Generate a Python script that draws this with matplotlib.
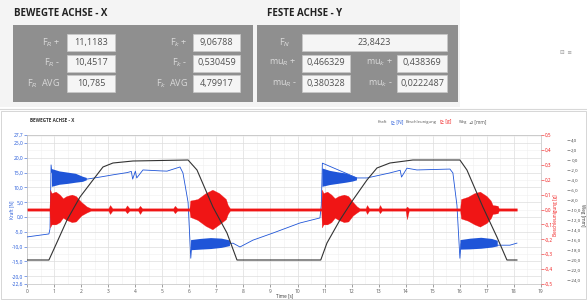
import numpy as np
import matplotlib
matplotlib.use("Agg")
import matplotlib.pyplot as plt
from matplotlib.patches import Rectangle
from matplotlib.ticker import FuncFormatter, MultipleLocator

plt.rcParams['font.family'] = ['Open Sans', 'DejaVu Sans']

# header panels
x_labels_left = [r"F$_R$ +", r"F$_R$ -", r"F$_R$  AVG"]
x_values_left = ["11,1183", "10,4517", "10,785"]
x_labels_right = [r"F$_k$ +", r"F$_k$ -", r"F$_k$  AVG"]
x_values_right = ["9,06788", "0,530459", "4,79917"]
fn_label = r"F$_N$"
fn_value = "23,8423"
y_labels_left = [r"mu$_R$ +", r"mu$_R$ -"]
y_values_left = ["0,466329", "0,380328"]
y_labels_right = [r"mu$_k$ +", r"mu$_k$ -"]
y_values_right = ["0,438369", "0,0222487"]

# time axis [s]
x_ticks = list(range(0, 20))

# Weg [mm] (black)
t_weg = [0.0, 0.80, 1.02, 1.47, 1.95, 2.43, 2.80, 3.17, 3.91, 5.95, 6.28, 6.87, 7.39, 7.76,
         10.86, 11.09, 11.57, 12.05, 12.57, 12.94, 13.42, 14.27, 16.01, 16.27, 16.86, 17.38, 17.75, 18.12]
weg = [-20, -20, -17.4, -12, -7.4, -4, -1.4, -0.6, -0.2, 0, -2, -9.4, -14.6, -20,
       -20, -16.6, -12, -8, -4, -1.6, -0.6, 0, 0, -2, -9.4, -15.4, -20, -20]

# Kraft [N] (blue, thin trace)
t_kraft = [0.00, 0.80, 0.84, 0.88, 0.91, 2.20, 2.69, 3.20, 3.69, 3.85, 3.90, 4.00, 4.05, 4.28,
           4.90, 5.17, 5.65, 5.76, 5.95, 6.05, 6.09, 7.50, 7.61, 7.87, 8.35, 9.09, 10.09, 10.83,
           10.88, 10.92, 12.20, 12.57, 13.42, 13.80, 13.85, 14.05, 14.42, 15.64, 15.75, 15.90,
           16.01, 16.05, 17.41, 17.60, 17.86, 18.12]
kraft = [-6.7, -5.7, -4.0, 17.6, 15.0, 12.8, 13.5, 14.3, 15.0, 15.4, 12.8, 15.5, 13.2, 15.9,
         15.6, 15.5, 16.9, 14.9, 5.0, -13.9, -9.0, -9.0, -8.8, -10.1, -7.8, -5.4, -2.0, -0.3,
         4.0, 18.2, 13.2, 13.2, 14.9, 15.8, 13.5, 16.5, 15.9, 16.2, 14.9, 4.0,
         -13.9, -9.0, -9.5, -9.5, -9.5, -8.8]

# Kraft noise bands (upper / lower envelope)
t_kband = [0.91, 1.20, 1.50, 1.80, 2.06, 2.20, np.nan,
           6.06, 6.40, 6.80, 7.20, 7.50, np.nan,
           10.92, 11.20, 11.50, 11.80, 12.05, 12.20, np.nan,
           16.03, 16.40, 16.80, 17.20, 17.41]
kband_hi = [16.2, 15.4, 15.0, 14.6, 13.6, 13.2, np.nan,
            -7.8, -7.4, -7.1, -7.3, -7.9, np.nan,
            16.4, 15.6, 15.1, 14.7, 13.8, 13.3, np.nan,
            -7.8, -7.3, -7.0, -7.4, -8.0]
kband_lo = [10.2, 10.9, 11.2, 11.6, 11.9, 12.4, np.nan,
            -11.2, -11.0, -10.8, -10.4, -9.8, np.nan,
            10.2, 10.8, 11.2, 11.6, 12.0, 12.4, np.nan,
            -11.0, -10.9, -10.7, -10.3, -9.9]

# Beschleunigung [g] (red, envelope)
t_acc = [0.00, 0.82, 0.84, 0.90, 1.05, 1.20, 1.32, 1.45, 1.65, 1.80, 2.00, 2.20, 2.35,
         3.00, 3.06, 3.15, 3.62, 3.69, 3.78, 4.10, 4.17, 4.25, 5.40, 5.46, 5.55,
         6.00, 6.03, 6.30, 6.60, 6.85, 7.10, 7.35, 7.42, 7.50,
         10.88, 10.90, 10.96, 11.10, 11.25, 11.38, 11.52, 11.72, 11.88, 12.05, 12.20, 12.30,
         12.52, 12.57, 12.65, 13.00, 13.05, 13.12, 14.00, 14.05, 14.12,
         16.02, 16.05, 16.30, 16.55, 16.75, 17.00, 17.15, 17.22, 17.41, 17.45, 18.12]
acc_hi = [0.008, 0.008, 0.133, 0.11, 0.12, 0.10, 0.075, 0.09, 0.10, 0.09, 0.05, 0.02, 0.008,
          0.008, 0.03, 0.008, 0.008, 0.028, 0.008, 0.008, 0.025, 0.008, 0.008, 0.025, 0.008,
          0.008, 0.06, 0.07, 0.11, 0.133, 0.11, 0.07, 0.03, 0.008,
          0.008, 0.133, 0.11, 0.12, 0.10, 0.075, 0.09, 0.10, 0.09, 0.05, 0.02, 0.008,
          0.008, 0.03, 0.008, 0.008, 0.03, 0.008, 0.008, 0.02, 0.008,
          0.008, 0.07, 0.085, 0.11, 0.12, 0.09, 0.06, 0.03, 0.025, 0.008, 0.008]
acc_lo = [-0.008, -0.008, -0.12, -0.10, -0.10, -0.085, -0.055, -0.07, -0.085, -0.08, -0.04, -0.02, -0.008,
          -0.008, -0.03, -0.008, -0.008, -0.025, -0.008, -0.008, -0.03, -0.008, -0.008, -0.025, -0.008,
          -0.008, -0.05, -0.07, -0.11, -0.133, -0.10, -0.065, -0.03, -0.008,
          -0.008, -0.12, -0.10, -0.10, -0.085, -0.055, -0.07, -0.085, -0.08, -0.04, -0.02, -0.008,
          -0.008, -0.03, -0.008, -0.008, -0.025, -0.008, -0.008, -0.065, -0.008,
          -0.008, -0.06, -0.075, -0.10, -0.115, -0.09, -0.06, -0.03, -0.025, -0.008, -0.008]

kraft_ticks = [-22.6, -20, -15, -10, -5, 0, 5, 10, 15, 20, 25, 27.7]
acc_ticks = [-0.5, -0.4, -0.3, -0.2, -0.1, 0.0, 0.1, 0.2, 0.3, 0.4, 0.5]
weg_ticks = [-24, -22, -20, -18, -16, -14, -12, -10, -8, -6, -4, -2, 0, 2, 4]

BLUE = '#1f55d8'
RED = '#f01515'
DARK = '#8f8f8f'

W, H = 587, 300
fig = plt.figure(figsize=(W / 100, H / 100), dpi=100)
fig.patch.set_facecolor('white')

# overlay in pixel coordinates
ov = fig.add_axes([0, 0, 1, 1])
ov.set_xlim(0, W)
ov.set_ylim(H, 0)
ov.axis('off')

ov.add_patch(Rectangle((0, 0), 460, 107, fc='#f4f4f4', ec='none'))
ov.add_patch(Rectangle((1, 111), 585, 188, fc='white', ec='#d0d0d0', lw=0.6))
ov.plot([0, W], [108.5, 108.5], color='#d8d8d8', lw=0.8)

ov.text(14, 13, "BEWEGTE ACHSE - X", fontsize=7, fontweight='bold', color='#222222', va='center')
ov.text(267, 13, "FESTE ACHSE - Y", fontsize=7, fontweight='bold', color='#222222', va='center')

ov.add_patch(Rectangle((13, 25), 240, 77, fc=DARK, ec='none'))
ov.add_patch(Rectangle((257, 25), 201, 77, fc=DARK, ec='none'))

rows = [42.5, 63, 83.5]
LBL = '#dadada'
VAL = '#505050'
for i in range(3):
    ov.add_patch(Rectangle((67, rows[i] - 8.5), 48, 17, fc='#f5f5f5', ec='#c8c8c8', lw=0.5))
    ov.text(91, rows[i], x_values_left[i], fontsize=6.5, color=VAL, ha='center', va='center')
    ov.text(60, rows[i], x_labels_left[i], fontsize=6.5, color=LBL, ha='right', va='center')
    ov.add_patch(Rectangle((193, rows[i] - 8.5), 47, 17, fc='#f5f5f5', ec='#c8c8c8', lw=0.5))
    ov.text(216.5, rows[i], x_values_right[i], fontsize=6.5, color=VAL, ha='center', va='center')
    ov.text(188, rows[i], x_labels_right[i], fontsize=6.5, color=LBL, ha='right', va='center')

ov.add_patch(Rectangle((302, rows[0] - 8.5), 145, 17, fc='#f5f5f5', ec='#c8c8c8', lw=0.5))
ov.text(374.5, rows[0], fn_value, fontsize=6.5, color=VAL, ha='center', va='center')
ov.text(285, rows[0], fn_label, fontsize=6.5, color=LBL, ha='center', va='center')
for i in range(2):
    r = rows[i + 1]
    ov.add_patch(Rectangle((302, r - 8.5), 48, 17, fc='#f5f5f5', ec='#c8c8c8', lw=0.5))
    ov.text(326, r, y_values_left[i], fontsize=6.5, color=VAL, ha='center', va='center')
    ov.text(297, r, y_labels_left[i], fontsize=6.5, color=LBL, ha='right', va='center')
    ov.add_patch(Rectangle((397, r - 8.5), 50, 17, fc='#f5f5f5', ec='#c8c8c8', lw=0.5))
    ov.text(422, r, y_values_right[i], fontsize=6.5, color=VAL, ha='center', va='center')
    ov.text(393, r, y_labels_right[i], fontsize=6.5, color=LBL, ha='right', va='center')

ov.text(566, 52, "\u229f  \u2261", fontsize=4, color='#999999', ha='center', va='center')

# chart title and legend
ov.text(30, 120, "BEWEGTE ACHSE - X", fontsize=3.3, fontweight='bold', color='#333333', va='center')
ov.text(378, 122, "Kraft", fontsize=3, color='#555555', va='center')
ov.text(391, 122, "\u22b5 [N]", fontsize=3.5, color=BLUE, va='center')
ov.text(406, 122, "Beschleunigung", fontsize=3, color='#555555', va='center')
ov.text(440, 122, "\u22b5 [g]", fontsize=3.5, color=RED, va='center')
ov.text(459, 122, "Weg", fontsize=3, color='#555555', va='center')
ov.text(469, 122, "\u22bf [mm]", fontsize=3.5, color='#555555', va='center')

# axis titles
ov.text(12, 210, "Kraft [N]", fontsize=3.3, color=BLUE, rotation=90, ha='center', va='center')
ov.text(556, 215, "Beschleunigung [g]", fontsize=3.3, color=RED, rotation=90, ha='center', va='center')
ov.text(583, 215, "Weg [mm]", fontsize=3.3, color='#333333', rotation=270, ha='center', va='center')
ov.text(285, 296, "Time [s]", fontsize=3.3, color='#333333', ha='center', va='center')

# main chart
left, right, top, bottom = 27.3, 540.7, 135, 284
ax = fig.add_axes([left / W, 1 - bottom / H, (right - left) / W, (bottom - top) / H])
ax.set_facecolor('white')

comma = lambda fmt: FuncFormatter(lambda v, p: format(v, fmt).replace('.', ','))

ax.fill_between(t_kband, kband_hi, kband_lo, color=BLUE, lw=0, zorder=3)
ax.plot(t_kraft, kraft, color=BLUE, lw=0.6, zorder=3)
ax.set_xlim(0, 19)
ax.set_ylim(kraft_ticks[0], kraft_ticks[-1])
ax.set_xticks(x_ticks)
ax.set_yticks(kraft_ticks)
ax.yaxis.set_minor_locator(MultipleLocator(2.5))
ax.xaxis.set_minor_locator(MultipleLocator(0.5))
ax.yaxis.set_major_formatter(comma('.1f'))
ax.grid(True, which='major', color='#dddddd', lw=0.5)
ax.grid(True, which='minor', color='#efefef', lw=0.4)
ax.tick_params(axis='x', labelsize=3.5, colors='#555555', length=2, width=0.4, pad=1.5)
ax.tick_params(axis='y', labelsize=3.5, colors=BLUE, length=2, width=0.4, pad=1)
ax.tick_params(which='minor', length=0)
for s in ax.spines.values():
    s.set_color('#c0c0c0')
    s.set_linewidth(0.5)

ax_r = ax.twinx()
ax_r.fill_between(t_acc, acc_hi, acc_lo, color=RED, lw=0.2, edgecolor=RED)
ax_r.set_ylim(acc_ticks[0], acc_ticks[-1])
ax_r.set_yticks(acc_ticks)
ax_r.yaxis.set_major_formatter(comma('.1f'))
ax_r.tick_params(axis='y', labelsize=3.3, colors=RED, length=2, width=0.4, pad=1)
for s in ax_r.spines.values():
    s.set_visible(False)

ax_w = ax.twinx()
ax_w.plot(t_weg, weg, color='#333333', lw=0.8)
ax_w.set_ylim(-24.8, 5.0)
ax_w.set_yticks(weg_ticks)
ax_w.yaxis.set_major_formatter(comma('.1f'))
ax_w.spines['right'].set_position(('outward', 19))
for s in ax_w.spines.values():
    s.set_visible(False)
ax_w.tick_params(axis='y', labelsize=3.2, colors='#444444', length=2, width=0.4, pad=1)

fig.savefig('out.png', dpi=100)
